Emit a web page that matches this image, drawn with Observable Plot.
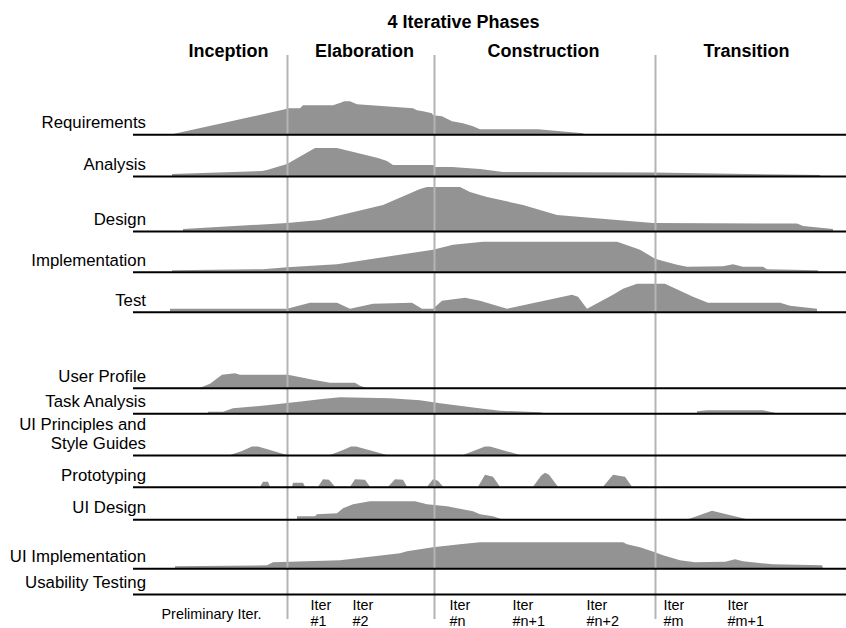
<!DOCTYPE html>
<html><head><meta charset="utf-8">
<script src="https://cdn.jsdelivr.net/npm/d3@7"></script>
<script src="https://cdn.jsdelivr.net/npm/@observablehq/plot@0.6"></script>
<style>html,body{margin:0;padding:0;background:#fff;} #chart svg{display:block}</style>
</head><body><div id="chart"></div>
<script>
// ---------- data ----------
const title = "4 Iterative Phases";
const phaseNames = ["Inception", "Elaboration", "Construction", "Transition"];
const phaseBounds = [169, 287, 434, 655, 836];

const rowNames = ["Requirements", "Analysis", "Design", "Implementation", "Test",
  "User Profile", "Task Analysis", "UI Principles and\nStyle Guides", "Prototyping",
  "UI Design", "UI Implementation", "Usability Testing"];

// each profile: list of segments, each segment: [time, effort]
const requirements = [[[172,0],[285,25],[288,26],[300,26],[303,29],[333,29],[342,32],[344,33],[350,33],[357,30],[413,26],[417,24],[423,23],[432,21],[433,19],[442,18],[452,13],[463,11],[473,8],[480,5],[538,5],[583,1],[584,0]]];
const analysis = [[[172,2],[262,5],[267,6],[287,12],[315,28],[337,28],[378,18],[387,15],[393,11],[433,11],[435,9],[452,9],[480,7],[503,4],[653,3.5],[820,1]]];
const design = [[[183,2],[287,8],[320,11],[383,26],[420,42],[427,44],[460,44],[470,39],[480,36],[487,34],[523,26],[557,16],[653,8],[797,7.5],[803,5],[833,2]]];
const implementation = [[[172,1.5],[263,2.5],[287,4.5],[337,7.5],[433,22],[453,27],[483,30],[617,30],[623,28],[640,22],[655,13],[677,7],[687,5],[723,5.5],[733,7.5],[743,5],[763,5],[767,2.5],[818,1.5]]];
const test = [[[170,3],[287,3],[310,9],[337,9],[350,3],[373,8],[412,9],[422,3],[433,3],[442,11],[465,14],[480,11],[507,3],[572,17],[578,15],[587,3],[613,17],[623,23],[637,28],[665,28],[693,15],[708,9],[780,9],[790,6],[817,3]]];
const userProfile = [[[200,0],[210,4],[222,13],[235,14.5],[240,13],[288,13],[313,8],[330,5],[355,5],[360,2],[366,0]]];
const taskAnalysis = [[[208,1.5],[223,1.5],[233,5],[267,8],[303,12],[320,14],[340,16],[390,15],[420,13],[440,10],[483,4.5],[500,2.5],[540,1],[545,0]],
  [[697,2],[707,3],[763,3],[777,0]]];
const uiPrinciples = [[[230,0],[242,4],[252,8.5],[258,8.5],[287,0]],
  [[330,0],[343,5],[351,8.5],[356,8.5],[387,0]],
  [[463,0],[476,5],[485,8.5],[490,8.5],[520,0]]];
const prototyping = [[[260,0],[263,5],[268,5],[270,0]],
  [[292,0],[293,4],[303,4],[305,0]],
  [[318,0],[323,7.5],[329,7],[335,0]],
  [[350,0],[355,7.5],[365,7],[370,0]],
  [[388,0],[395,7.5],[403,7],[407,0]],
  [[427,0],[433,7.5],[438,6],[443,0]],
  [[478,0],[485,12],[493,10],[500,0]],
  [[533,0],[541,11],[545,14],[549,12],[558,0]],
  [[603,0],[613,12],[625,10],[632,0]]];
const uiDesign = [[[297,0],[297,3],[315,3],[317,5],[337,6],[343,11],[353,15],[370,18],[415,18],[427,15],[447,13],[473,8],[480,5],[493,3],[502,0]],
  [[688,0],[712,8.5],[747,0]]];
const uiImplementation = [[[175,2],[267,3],[273,6],[340,8],[400,15],[407,17],[433,21],[460,24],[480,26],[623,26],[627,24],[640,21],[652,17],[663,13],[680,8],[695,6],[725,6.5],[735,9],[743,7],[773,4],[822,3],[823,0]]];
const usabilityTesting = [];

const profiles = [requirements, analysis, design, implementation, test, userProfile,
  taskAnalysis, uiPrinciples, prototyping, uiDesign, uiImplementation, usabilityTesting];

const iterLabels = ["Preliminary Iter.", "Iter\n#1", "Iter\n#2", "Iter\n#n", "Iter\n#n+1", "Iter\n#n+2", "Iter\n#m", "Iter\n#m+1"];
const iterStarts = [161, 310, 352, 449, 512, 586, 663, 727];

// ---------- layout ----------
const W = 846, H = 628;
const rowBase = [134.3, 176, 231, 271.7, 311.7, 387.7, 413.3, 455, 486.7, 519.3, 568.3, 594];
const labelRight = 145.5, lineLeft = 133;
const phaseLabelX = [228, 364, 543, 746];

const table = profiles.flatMap((segs, r) =>
  segs.flatMap((seg, s) => seg.map(([t, h]) => ({row: r, key: r + "-" + s, t, h}))));

const chart = Plot.plot({
  width: W, height: H, margin: 0,
  x: {domain: [0, W], range: [0, W], axis: null},
  y: {domain: [0, H], range: [0, H], axis: null},
  style: {fontFamily: "'Liberation Sans', Arial, sans-serif", background: "white", color: "black"},
  marks: [
    Plot.areaY(table, {x: "t", y1: d => rowBase[d.row], y2: d => rowBase[d.row] - d.h, z: "key", fill: "#939393"}),
    Plot.ruleX(phaseBounds.slice(1, 4), {x: d => d, y1: 55, y2: 619, stroke: "#b4b4b4", strokeWidth: 2}),
    Plot.ruleY(rowBase, {y: d => d, x1: lineLeft, x2: W, stroke: "black", strokeWidth: 2}),
    Plot.text(rowNames, {x: labelRight, y: (d, i) => rowBase[i] - 6.5, text: d => d, textAnchor: "end", lineAnchor: "bottom", fontSize: 16.8, lineHeight: 1.15}),
    Plot.text([title], {x: 463, y: 27, text: d => d, textAnchor: "middle", lineAnchor: "bottom", fontSize: 18, fontWeight: "bold"}),
    Plot.text(phaseNames, {x: (d, i) => phaseLabelX[i], y: 56, text: d => d, textAnchor: "middle", lineAnchor: "bottom", fontSize: 18, fontWeight: "bold"}),
    Plot.text(iterLabels, {x: (d, i) => iterStarts[i], y: d => d.includes("\n") ? 625 : 618, text: d => d, textAnchor: "start", lineAnchor: "bottom", fontSize: 14.4, lineHeight: 1.08})
  ]
});
document.getElementById("chart").appendChild(chart);
</script>
</body></html>
